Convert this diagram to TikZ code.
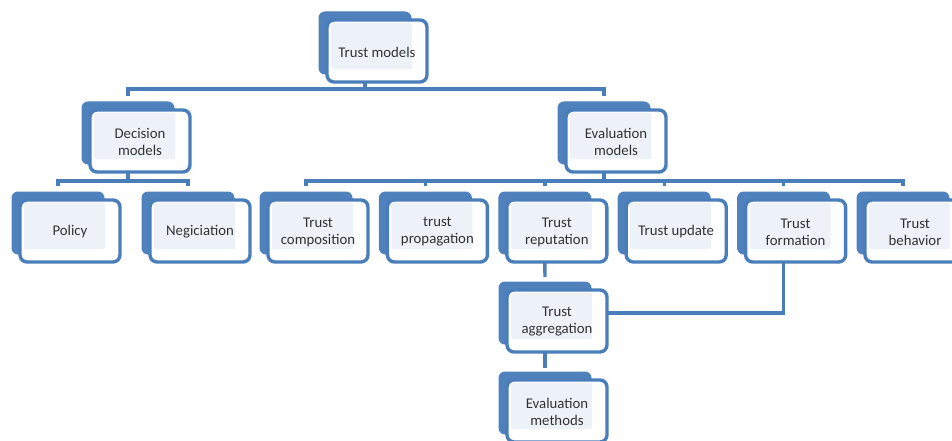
\documentclass[tikz,border=0pt]{standalone}
\usepackage{fontspec}
\setmainfont{Carlito}
\usetikzlibrary{calc}

\definecolor{boxblue}{HTML}{4A7EBB}
\definecolor{backblue}{HTML}{4F81BD}
\definecolor{innerfill}{HTML}{EDF1F8}
\definecolor{labelgray}{HTML}{333333}

\tikzset{
  backbox/.style={draw=backblue, fill=backblue, line width=1pt,
    rounded corners=6pt, minimum width=92pt, minimum height=62pt,
    inner sep=0pt, outer sep=0pt},
  frontbox/.style={draw=boxblue, fill=white, line width=3.4pt,
    rounded corners=7pt, minimum width=100pt, minimum height=62pt,
    inner sep=0pt, outer sep=0pt},
  innerpanel/.style={fill=innerfill, rounded corners=2pt},
  boxlabel/.style={align=center, text=labelgray,
    font=\fontsize{14.8}{17}\selectfont, inner sep=0pt},
  conn/.style={draw=boxblue, line width=3.4pt, line join=miter},
}

% #1 name, #2 x, #3 y of the back panel's top-left corner, #4 label
\newcommand\stackbox[4]{%
  \node[backbox, anchor=north west] (#1-b) at (#2,#3) {};
  \node[frontbox, anchor=north west] (#1) at ($(#2,#3)+(8,8)$) {};
  \fill[innerpanel] ($(#1.north west)+(4,3)$) rectangle ($(#1.south east)+(-15,-13)$);
  \node[boxlabel] (#1-t) at ($(#1.center)+(0,1)$) {#4};
}

\begin{document}
\begin{tikzpicture}[x=1pt, y=-1pt]
  \useasboundingbox (0,0) rectangle (952,441);

  % top level
  \stackbox{tm}{319}{12}{Trust models}
  % second level
  \stackbox{dm}{82}{102}{Decision\\models}
  \stackbox{em}{558}{102}{Evaluation\\models}
  % decision branch
  \stackbox{pol}{12}{192}{Policy}
  \stackbox{neg}{142}{192}{Negiciation}
  % evaluation branch
  \stackbox{comp}{260}{192}{Trust\\composition}
  \stackbox{prop}{379.4}{192}{trust\\propagation}
  \stackbox{rep}{498.8}{192}{Trust\\reputation}
  \stackbox{upd}{618.2}{192}{Trust update}
  \stackbox{form}{737.6}{192}{Trust\\formation}
  \stackbox{beh}{857}{192}{Trust\\behavior}
  % lower chain
  \stackbox{agg}{499}{282}{Trust\\aggregation}
  \stackbox{meth}{499}{372}{Evaluation\\methods}

  % Trust models -> second level
  \draw[conn] (tm-b.south |- tm.south) -- ($(tm-b.south |- tm.south)+(0,7)$);
  \draw[conn] ($(dm-b.north)+(0,-6)$) |- ($(em-b.north)+(0,-13)$) -- ($(em-b.north)+(0,-6)$);

  % Decision models -> children
  \draw[conn] (dm-b.south |- dm.south) -- ($(dm-b.south |- dm.south)+(0,9)$);
  \draw[conn] ($(pol-b.north)+(0,-6)$) |- ($(neg-b.north)+(0,-11)$) -- ($(neg-b.north)+(0,-6)$);

  % Evaluation models -> children
  \draw[conn] (em-b.south |- em.south) -- ($(em-b.south |- em.south)+(0,9)$);
  \draw[conn] ($(comp-b.north)+(0,-6)$) |- ($(beh-b.north)+(0,-11)$) -- ($(beh-b.north)+(0,-6)$);
  \foreach \n in {prop,rep,upd,form}
    \draw[conn] ($(\n-b.north)+(0,-11)$) -- ($(\n-b.north)+(0,-6)$);

  % lower chain
  \draw[conn] (rep-b.south |- rep.south) -- ($(agg-b.north)+(0,-5)$);
  \draw[conn] (agg-b.south |- agg.south) -- ($(meth-b.north)+(0,-4)$);
  \draw[conn] (form-b.south |- form.south) |- ($(agg.east)+(0,-8)$);
\end{tikzpicture}
\end{document}
